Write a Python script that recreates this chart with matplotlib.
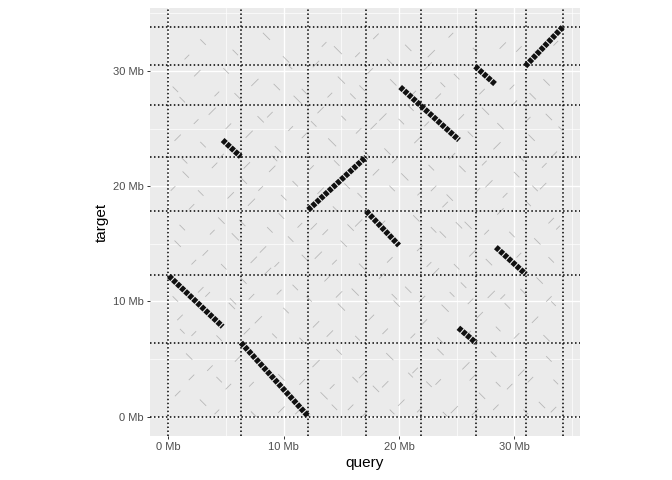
import numpy as np
import matplotlib
matplotlib.use("Agg")
import matplotlib.pyplot as plt

plt.rcParams['font.family'] = ['Liberation Sans', 'DejaVu Sans']

# chromosome boundaries (Mb)
query_bounds = [0, 6.29, 12.14, 17.17, 21.94, 26.67, 31.05, 34.26]
target_bounds = [0, 6.42, 12.28, 17.84, 22.55, 27.07, 30.49, 33.84]

# main alignments: query start/end, target start/end (Mb)
aln_qs = [0.04, 6.29, 4.70, 12.12, 17.15, 20.10, 26.60, 30.95, 25.15, 28.40]
aln_qe = [4.70, 12.14, 6.27, 17.14, 20.00, 25.20, 28.40, 34.20, 26.67, 31.00]
aln_ts = [12.20, 6.42, 24.00, 17.93, 17.84, 28.60, 30.40, 30.40, 7.70, 14.70]
aln_te = [7.80, 0.00, 22.55, 22.53, 14.85, 24.00, 28.80, 33.80, 6.40, 12.35]

# faint short alignments: centre x, centre y, direction, length (Mb)
noise_x = [3.0, 8.5, 13.5, 14.7, 18.0, 20.8, 24.5, 29.0, 32.0,
           2.5, 5.0, 7.5, 10.5, 12.8, 15.0, 17.5, 19.5, 22.5, 25.0, 29.8, 32.8,
           1.2, 3.8, 6.0, 8.8, 11.2, 13.2, 16.0, 18.6, 21.0, 23.4, 27.5, 30.0, 33.0,
           0.8, 3.0, 7.0, 9.5, 11.8, 14.2, 16.5, 19.0, 21.6, 26.2, 28.5, 31.5, 33.5,
           1.5, 4.0, 6.5, 9.0, 11.0, 15.5, 18.0, 20.5, 23.0, 25.5, 27.8, 30.2, 32.5,
           2.0, 4.6, 7.2, 9.8, 12.6, 14.5, 16.5, 21.5, 24.0, 26.0, 28.8, 31.2, 33.2,
           0.8, 3.2, 5.8, 8.2, 10.6, 13.0, 15.2, 21.8, 23.8, 26.4, 32.0,
           2.8, 6.5, 8.6, 11.0, 13.8, 16.2, 18.5, 20.8, 23.2, 25.6, 28.0, 32.2,
           1.0, 5.5, 7.8, 10.2, 12.8, 15.0, 17.6, 19.8, 22.2, 24.0, 27.0, 29.4, 31.8, 33.4,
           1.8, 3.6, 6.0, 8.6, 12.8, 14.8, 16.8, 19.2, 21.4, 23.6, 25.8, 28.2, 30.6, 33.0,
           0.8, 3.0, 5.2, 13.5, 15.8, 18.0, 20.2, 22.6, 24.8, 27.2, 29.6, 32.4,
           # second pass
           1.6, 5.8, 10.2, 16.4, 19.2, 22.8, 26.6, 30.4, 33.6,
           0.6, 4.2, 9.4, 11.8, 14.0, 16.8, 21.2, 23.8, 27.2, 31.6,
           2.4, 5.2, 8.0, 10.6, 12.6, 15.2, 17.8, 20.2, 22.4, 25.4, 28.8, 31.2, 34.0,
           1.4, 4.6, 6.8, 9.2, 12.4, 14.6, 17.2, 19.6, 22.8, 24.6, 27.4, 30.6, 32.6,
           0.4, 2.8, 5.4, 8.0, 10.0, 13.2, 16.6, 19.4, 21.8, 24.4, 26.8, 29.2, 31.8,
           1.2, 3.8, 6.4, 8.8, 11.4, 13.6, 15.8, 18.6, 23.0, 25.2, 27.6, 29.8, 33.8,
           2.2, 4.8, 7.4, 9.4, 11.8, 14.4, 16.8, 19.2, 22.6, 25.0, 27.8, 30.4, 33.2,
           0.6, 3.4, 5.6, 7.2, 9.6, 12.2, 14.8, 17.2, 19.6, 22.0, 24.6, 26.2, 29.0, 30.8, 33.0,
           2.2, 4.4, 6.8, 9.2, 11.6, 14.0, 16.4, 18.8, 21.2, 23.6, 26.0, 28.6, 30.2, 32.8,
           1.2, 4.4, 7.2, 9.8, 11.6, 14.2, 16.2, 18.8, 21.0, 23.4, 26.4, 28.6, 31.4, 33.6,
           2.0, 4.2, 7.4, 9.8, 11.2, 14.4, 17.0, 19.4, 21.8, 24.0, 26.6, 28.4, 31.0, 33.4]
noise_y = [32.5, 33.0, 32.3, 31.8, 33.0, 32.0, 33.1, 32.2, 31.5,
           29.8, 30.0, 29.0, 30.4, 30.6, 29.2, 30.0, 29.0, 30.4, 29.5, 28.6, 29.0,
           27.5, 26.5, 27.8, 26.2, 27.5, 26.6, 27.8, 26.0, 26.8, 27.8, 26.5, 27.2, 26.0,
           24.2, 23.6, 24.5, 23.2, 24.4, 23.8, 24.8, 23.0, 24.0, 24.5, 23.5, 24.2, 22.8,
           21.0, 21.8, 20.5, 21.5, 20.2, 20.0, 21.2, 20.8, 19.8, 21.5, 20.2, 21.0, 20.0,
           18.2, 17.0, 18.6, 17.4, 16.5, 18.0, 16.8, 17.2, 18.4, 16.6, 17.8, 18.5, 17.0,
           15.0, 14.2, 15.6, 14.5, 15.4, 14.0, 15.0, 14.6, 15.8, 14.2, 15.2,
           11.0, 11.8, 12.6, 11.2, 12.0, 10.8, 12.2, 11.0, 12.6, 11.4, 10.6, 11.8,
           8.6, 9.6, 8.4, 9.2, 8.0, 9.5, 8.6, 9.8, 8.2, 9.4, 8.8, 9.6, 8.4, 9.8,
           5.2, 4.2, 5.0, 3.8, 4.6, 5.6, 3.6, 5.2, 4.0, 5.6, 4.4, 5.4, 3.8, 5.0,
           2.0, 1.2, 2.6, 1.8, 0.8, 2.4, 1.2, 2.8, 0.6, 1.8, 2.6, 1.0,
           # second pass
           31.2, 31.6, 31.0, 31.4, 30.8, 31.5, 31.8, 31.9, 32.4,
           28.4, 28.0, 28.6, 28.2, 27.9, 28.5, 28.0, 28.8, 28.2, 27.8,
           25.6, 25.2, 25.8, 25.0, 25.4, 25.9, 25.2, 25.6, 25.4, 26.0, 25.2, 25.8, 25.0,
           22.2, 22.6, 21.8, 22.4, 21.6, 22.0, 22.8, 22.2, 21.6, 22.6, 22.0, 22.4, 21.8,
           19.8, 19.4, 19.2, 19.8, 19.0, 19.6, 19.2, 19.8, 19.4, 19.0, 19.6, 19.2, 19.8,
           16.4, 16.0, 16.8, 16.2, 16.6, 16.0, 16.4, 16.8, 16.2, 16.6, 16.0, 15.8, 16.4,
           13.4, 13.0, 13.6, 13.2, 13.8, 13.4, 13.0, 13.6, 13.2, 13.0, 13.4, 14.0, 13.6,
           10.2, 10.6, 10.0, 10.4, 10.8, 10.2, 10.6, 10.0, 10.4, 10.2, 10.6, 10.0, 10.4, 10.8, 10.2,
           7.2, 6.8, 7.4, 7.0, 6.6, 7.2, 6.8, 7.4, 7.0, 6.6, 7.2, 7.6, 7.0, 6.8, 7.4,
           3.2, 2.8, 3.4, 3.0, 2.6, 3.2, 2.8, 3.6, 3.0, 3.4, 2.8, 3.2, 3.0, 3.4,
           0.4, 0.2, 0.6, 0.4, 0.8, 0.2, 0.4, 0.6, 0.2, 0.4, 0.8, 0.4, 0.6, 0.2]
noise_dir = [-1, -1, 1, -1, 1, -1, 1, 1, -1,
             1, -1, 1, -1, 1, -1, 1, -1, 1, -1, 1, -1,
             -1, 1, -1, 1, -1, 1, -1, 1, -1, 1, -1, 1, -1,
             1, -1, 1, -1, 1, -1, 1, -1, 1, -1, 1, -1, 1,
             -1, 1, -1, 1, -1, -1, 1, -1, 1, -1, 1, -1, 1,
             1, -1, 1, -1, 1, -1, 1, -1, 1, -1, 1, -1, 1,
             -1, 1, -1, 1, -1, 1, -1, 1, -1, 1, -1,
             1, -1, 1, -1, 1, -1, 1, -1, 1, -1, 1, -1,
             1, -1, 1, -1, 1, -1, 1, -1, 1, -1, 1, -1, 1, -1,
             -1, 1, 1, -1, 1, -1, 1, -1, 1, -1, 1, -1, 1, -1,
             1, -1, 1, -1, 1, -1, 1, -1, 1, -1, 1, -1,
             # second pass
             1, -1, -1, 1, -1, 1, -1, 1, 1,
             -1, 1, -1, -1, 1, -1, 1, -1, 1, -1,
             1, 1, -1, 1, -1, -1, 1, -1, 1, 1, -1, 1, -1,
             -1, 1, 1, -1, 1, -1, -1, 1, -1, 1, 1, -1, 1,
             1, -1, 1, 1, -1, 1, -1, -1, 1, -1, 1, 1, -1,
             -1, 1, -1, -1, 1, 1, -1, 1, -1, -1, 1, -1, 1,
             1, -1, 1, 1, -1, 1, -1, 1, 1, -1, -1, 1, -1,
             -1, 1, -1, 1, 1, -1, 1, -1, -1, 1, -1, 1, 1, -1, 1,
             1, -1, 1, -1, -1, 1, -1, 1, 1, -1, 1, -1, 1, -1, -1,
             -1, 1, -1, 1, 1, -1, 1, -1, 1, 1, -1, 1, -1, 1,
             1, -1, 1, 1, -1, 1, -1, 1, -1, 1, 1, -1, 1, -1]
noise_len = [0.6, 0.8, 0.5, 0.9, 0.6, 0.7, 0.5, 0.7, 0.6,
             0.7, 0.6, 0.8, 0.6, 0.7, 0.8, 0.6, 0.7, 0.9, 0.6, 0.5, 0.7,
             0.6, 0.8, 0.7, 0.6, 0.9, 0.7, 0.6, 0.8, 0.7, 0.6, 0.8, 0.6, 0.7,
             0.7, 0.6, 0.8, 0.7, 0.6, 0.9, 0.6, 0.7, 0.7, 0.6, 0.8, 0.7, 0.5,
             0.7, 0.6, 0.8, 0.7, 0.6, 0.6, 0.7, 0.8, 0.6, 0.7, 0.8, 0.6, 0.7,
             0.6, 0.7, 0.8, 0.6, 0.7, 0.6, 0.8, 0.7, 0.6, 0.8, 0.7, 0.6, 0.6,
             0.7, 0.6, 0.8, 0.7, 0.6, 0.8, 0.7, 0.6, 0.7, 0.8, 0.7,
             0.6, 0.7, 0.8, 0.6, 0.7, 0.8, 0.6, 0.7, 0.7, 0.6, 0.8, 0.7,
             0.6, 0.7, 0.8, 0.6, 0.7, 0.8, 0.6, 0.7, 0.6, 0.8, 0.7, 0.6, 0.7, 0.5,
             0.7, 0.6, 0.6, 0.7, 0.8, 0.6, 0.7, 0.8, 0.6, 0.7, 0.8, 0.6, 0.7, 0.6,
             0.6, 0.7, 0.6, 0.8, 0.6, 0.7, 0.7, 0.6, 0.8, 0.7, 0.6, 0.7,
             # second pass
             0.5, 0.6, 0.7, 0.5, 0.6, 0.8, 0.5, 0.6, 0.5,
             0.6, 0.5, 0.7, 0.6, 0.5, 0.6, 0.7, 0.5, 0.6, 0.7,
             0.5, 0.6, 0.7, 0.5, 0.6, 0.5, 0.7, 0.6, 0.5, 0.6, 0.7, 0.5, 0.4,
             0.6, 0.5, 0.7, 0.6, 0.5, 0.6, 0.7, 0.5, 0.6, 0.7, 0.5, 0.6, 0.5,
             0.5, 0.6, 0.7, 0.5, 0.6, 0.7, 0.5, 0.6, 0.5, 0.7, 0.6, 0.5, 0.6,
             0.6, 0.5, 0.7, 0.6, 0.5, 0.6, 0.7, 0.5, 0.6, 0.7, 0.5, 0.6, 0.4,
             0.5, 0.6, 0.7, 0.5, 0.6, 0.5, 0.7, 0.6, 0.5, 0.6, 0.7, 0.5, 0.6,
             0.6, 0.5, 0.7, 0.6, 0.5, 0.6, 0.7, 0.5, 0.6, 0.7, 0.5, 0.6, 0.5, 0.7, 0.6,
             0.5, 0.6, 0.7, 0.5, 0.6, 0.7, 0.5, 0.6, 0.5, 0.7, 0.6, 0.5, 0.6, 0.7, 0.5,
             0.6, 0.5, 0.7, 0.6, 0.5, 0.6, 0.7, 0.5, 0.6, 0.7, 0.5, 0.6, 0.5, 0.6,
             0.5, 0.6, 0.7, 0.5, 0.6, 0.7, 0.5, 0.6, 0.5, 0.7, 0.6, 0.5, 0.6, 0.5]

tick_pos = [0, 10, 20, 30]
tick_lab = ["0 Mb", "10 Mb", "20 Mb", "30 Mb"]

fig = plt.figure(figsize=(6.72, 4.8), dpi=100)
ax = fig.add_axes([150 / 672, 1 - 436 / 480, 430 / 672, 428 / 480])
ax.set_facecolor("#EBEBEB")
for s in ax.spines.values():
    s.set_visible(False)

ax.set_xlim(-1.6, 35.7)
ax.set_ylim(-1.69, 35.46)

# grid
for v in [5, 15, 25, 35]:
    ax.axvline(v, color="white", lw=0.5, zorder=0)
    ax.axhline(v, color="white", lw=0.5, zorder=0)
for v in tick_pos:
    ax.axvline(v, color="white", lw=1.0, zorder=0)
    ax.axhline(v, color="white", lw=1.0, zorder=0)

# faint alignments
for x, y, d, l in zip(noise_x, noise_y, noise_dir, noise_len):
    h = l / 2 / np.sqrt(2)
    ax.plot([x - h, x + h], [y - d * h, y + d * h], color="#8C8C8C",
            lw=0.6, alpha=0.55, zorder=1)

# boundaries
for q in query_bounds:
    ax.axvline(q, color="black", lw=1.1, linestyle=(0, (1, 1.6)), zorder=2)
for t in target_bounds:
    ax.axhline(t, color="black", lw=1.1, linestyle=(0, (1, 1.6)), zorder=2)

# main alignments
for qs, qe, ts, te in zip(aln_qs, aln_qe, aln_ts, aln_te):
    ax.plot([qs, qe], [ts, te], color="#111111", lw=4.0,
            linestyle=(0, (0.8, 0.2)), dash_capstyle="butt",
            solid_capstyle="butt", zorder=3)

ax.set_xticks(tick_pos)
ax.set_xticklabels(tick_lab)
ax.set_yticks(tick_pos)
ax.set_yticklabels(tick_lab)
ax.tick_params(length=2.5, width=0.7, color="#333333", labelcolor="#4D4D4D",
               labelsize=8, pad=2)
ax.set_xlabel("query", fontsize=11, labelpad=3)
ax.set_ylabel("target", fontsize=11, labelpad=3)

fig.savefig("out.png", dpi=100)
